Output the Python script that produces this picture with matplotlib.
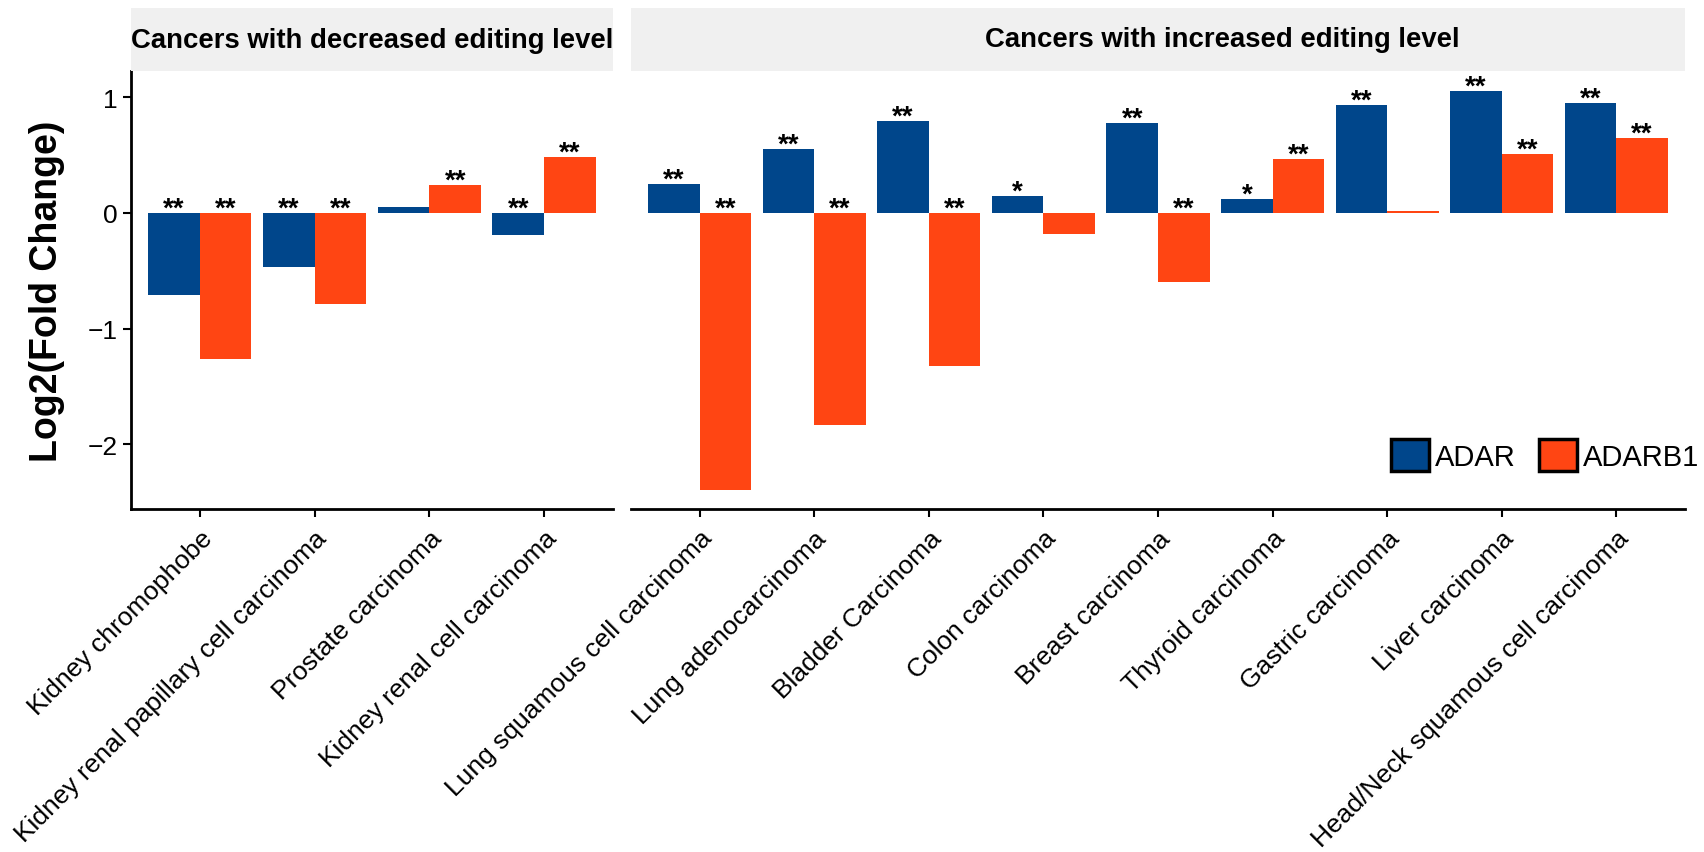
import numpy as np
import matplotlib
matplotlib.use("Agg")
import matplotlib.pyplot as plt
from matplotlib.patches import Patch

plt.rcParams['font.family'] = ['Liberation Sans', 'DejaVu Sans']

# data
dec_cancers = ['Kidney chromophobe', 'Kidney renal papillary cell carcinoma',
               'Prostate carcinoma', 'Kidney renal cell carcinoma']
dec_adar = [-0.712, -0.47, 0.055, -0.188]
dec_adarb1 = [-1.259, -0.79, 0.245, 0.487]
dec_adar_sig = ['**', '**', '', '**']
dec_adarb1_sig = ['**', '**', '**', '**']

inc_cancers = ['Lung squamous cell carcinoma', 'Lung adenocarcinoma', 'Bladder Carcinoma',
               'Colon carcinoma', 'Breast carcinoma', 'Thyroid carcinoma',
               'Gastric carcinoma', 'Liver carcinoma', 'Head/Neck squamous cell carcinoma']
inc_adar = [0.253, 0.556, 0.798, 0.15, 0.78, 0.124, 0.936, 1.057, 0.953]
inc_adarb1 = [-2.40, -1.835, -1.326, -0.185, -0.6, 0.469, 0.02, 0.513, 0.651]
inc_adar_sig = ['**', '**', '**', '*', '**', '*', '**', '**', '**']
inc_adarb1_sig = ['**', '**', '**', '', '**', '**', '', '**', '**']

strip_titles = ['Cancers with decreased editing level', 'Cancers with increased editing level']
genes = ['ADAR', 'ADARB1']
colors = ['#00468B', '#FF4513']

W, H = 1704, 853
fig = plt.figure(figsize=(W / 100, H / 100), dpi=100)

def fx(px):
    return px / W

def fy(py):
    return 1 - py / H

panel_top, panel_bot = 72, 510
panels = [(131, 613), (631, 1685)]
bw = 0.45
ylim = (-2.56, 1.228)


def draw_panel(x0, x1, cats, a, b, sa, sb, title, first, title_x=None):
    ax = fig.add_axes([fx(x0), fy(panel_bot), fx(x1 - x0), fy(panel_top) - fy(panel_bot)])
    pos = np.arange(len(cats))
    ax.bar(pos - bw / 2, a, bw, color=colors[0], linewidth=0)
    ax.bar(pos + bw / 2, b, bw, color=colors[1], linewidth=0)
    # significance stars sit just above the bar, or above zero for negative bars
    for vals, sig, off in [(a, sa, -bw / 2), (b, sb, bw / 2)]:
        for p, v, s in zip(pos, vals, sig):
            if s:
                ax.annotate(s, (p + off, max(v, 0)), xytext=(0, -2), textcoords='offset points',
                            ha='center', va='baseline', fontsize=20, fontweight='bold')
    ax.set_xlim(-0.6, len(cats) - 0.4)
    ax.set_ylim(*ylim)
    ax.set_xticks(pos)
    ax.set_xticklabels(cats, rotation=45, ha='right', va='top', rotation_mode='anchor', fontsize=19)
    for sp in ['top', 'right']:
        ax.spines[sp].set_visible(False)
    ax.spines['bottom'].set_linewidth(2)
    if first:
        ax.spines['left'].set_linewidth(2)
        ax.set_yticks([-2, -1, 0, 1])
        ax.tick_params(axis='y', labelsize=19, length=6, width=1.5)
    else:
        ax.spines['left'].set_visible(False)
        ax.set_yticks([])
    ax.tick_params(axis='x', length=6, width=1.5, pad=6)

    # facet strip
    st = fig.add_axes([fx(x0), fy(72), fx(x1 - x0), fy(9) - fy(72)])
    st.set_facecolor('#F0F0F0')
    st.set_xticks([])
    st.set_yticks([])
    for sp in st.spines.values():
        sp.set_visible(False)
    if title_x is None:
        st.text(0.5, 0.5, title, transform=st.transAxes, ha='center', va='center',
                fontsize=19.8, fontweight='bold')
    else:
        fig.text(fx(title_x), fy(40), title, ha='center', va='center',
                 fontsize=19.8, fontweight='bold')
    return ax


ax1 = draw_panel(*panels[0], dec_cancers, dec_adar, dec_adarb1, dec_adar_sig, dec_adarb1_sig,
                 strip_titles[0], True)
ax2 = draw_panel(*panels[1], inc_cancers, inc_adar, inc_adarb1, inc_adar_sig, inc_adarb1_sig,
                 strip_titles[1], False, title_x=1222)

fig.text(fx(47), fy(291), 'Log2(Fold Change)', rotation=90, ha='center', va='center',
         fontsize=27, fontweight='bold')

handles = [Patch(facecolor=c, edgecolor='black', linewidth=2.5) for c in colors]
fig.legend(handles, genes, loc='center', bbox_to_anchor=(fx(1545), fy(456)), ncol=2,
           frameon=False, fontsize=21, handlelength=1.3, handleheight=1.3,
           handletextpad=0.2, columnspacing=0.8, borderpad=0)

fig.savefig('out.png', dpi=100)
